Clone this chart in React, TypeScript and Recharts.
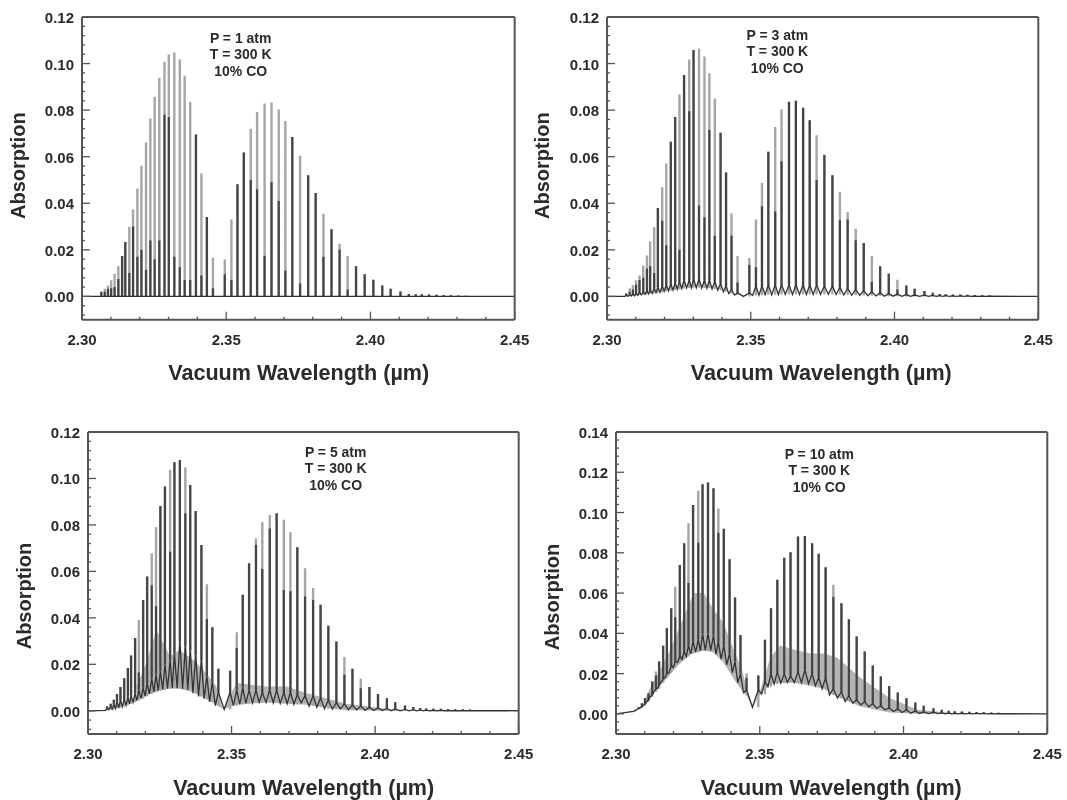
import { Area, ComposedChart, Line, XAxis, YAxis } from "recharts";

// line centres of the CO 2-0 band (um)
const lineWl = [
  2.3067, 2.3079, 2.309, 2.3101, 2.3113, 2.3126, 2.3139, 2.315, 2.3164, 2.3177, 2.3192, 2.3206, 2.3222,
  2.3237, 2.3252, 2.3268, 2.3286, 2.3301, 2.332, 2.3339, 2.3356, 2.3375, 2.3395, 2.3414, 2.3433, 2.3454,
  2.3495, 2.3518, 2.3539, 2.3561, 2.3585, 2.3607, 2.3633, 2.3657, 2.3682, 2.3705, 2.3729,
  2.3756, 2.3784, 2.381, 2.3837, 2.3865, 2.3893, 2.3921, 2.395, 2.398, 2.401, 2.4041, 2.407, 2.4104,
  2.4133, 2.4157, 2.4178, 2.4203, 2.4229, 2.4254, 2.4279, 2.4305, 2.433,
];

const xTicks = [2.3, 2.31, 2.32, 2.33, 2.34, 2.35, 2.36, 2.37, 2.38, 2.39, 2.4, 2.41, 2.42, 2.43, 2.44, 2.45];
const yTicks12 = [-0.008, -0.004, 0, 0.004, 0.008, 0.012, 0.016, 0.02, 0.024, 0.028, 0.032, 0.036, 0.04, 0.044, 0.048, 0.052, 0.056, 0.06, 0.064, 0.068, 0.072, 0.076, 0.08, 0.084, 0.088, 0.092, 0.096, 0.1, 0.104, 0.108, 0.112, 0.116, 0.12];
const yTicks14 = [...yTicks12, 0.124, 0.128, 0.132, 0.136, 0.14];

// P = 1 atm
const peak1 = [
  0.002, 0.0033, 0.0047, 0.0069, 0.0097, 0.013, 0.0173, 0.0234, 0.0298, 0.0373, 0.0463, 0.0561, 0.0661,
  0.0764, 0.0857, 0.0939, 0.1008, 0.1039, 0.1047, 0.1018, 0.0948, 0.0836, 0.0695, 0.0528, 0.0341, 0.0166,
  0.0159, 0.033, 0.0482, 0.0618, 0.072, 0.0792, 0.0828, 0.0833, 0.0803, 0.0753, 0.0685,
  0.0604, 0.052, 0.0444, 0.0355, 0.0288, 0.0226, 0.0173, 0.013, 0.0095, 0.0072, 0.0047, 0.0033, 0.0023,
  0.001, 0.0009, 0.0009, 0.0008, 0.0007, 0.0006, 0.0006, 0.0004, 0.0003,
];
const high1 = [
  0.002, 0.002, 0.0033, 0.0035, 0.004, 0.0075, 0.0173, 0.0234, 0.01, 0.03, 0.017, 0.02, 0.0115,
  0.024, 0.016, 0.024, 0.078, 0.077, 0.017, 0.0125, 0.007, 0.007, 0.0695, 0.009, 0.0341, 0.0035,
  0.0095, 0.007, 0.0482, 0.0618, 0.05, 0.046, 0.0175, 0.049, 0.041, 0.011, 0.0685,
  0.0055, 0.052, 0.0444, 0.017, 0.0288, 0.02, 0.003, 0.013, 0.0095, 0.0072, 0.0047, 0.0033, 0.002,
  0.001, 0.0009, 0.0009, 0.0008, 0.0007, 0.0006, 0.0005, 0.0004, 0.0003,
];
const low1 = lineWl.map(() => 0);
const valley1 = lineWl.map(() => 0);

// P = 3 atm
const peak2 = [
  0.0012, 0.0035, 0.0048, 0.0069, 0.009, 0.0133, 0.0176, 0.0237, 0.0298, 0.038, 0.047, 0.0571, 0.0664,
  0.0771, 0.0867, 0.0951, 0.1018, 0.1058, 0.1065, 0.103, 0.0958, 0.085, 0.0703, 0.0532, 0.0356, 0.0173,
  0.0165, 0.033, 0.0487, 0.0621, 0.0728, 0.0804, 0.0836, 0.084, 0.081, 0.0757, 0.0692,
  0.0609, 0.052, 0.0449, 0.0363, 0.0291, 0.0229, 0.0173, 0.013, 0.0097, 0.0072, 0.0047, 0.0033, 0.0023,
  0.0016, 0.001, 0.0009, 0.0008, 0.0008, 0.0007, 0.0006, 0.0005, 0.0004,
];
const high2 = [
  0.0012, 0.002, 0.003, 0.005, 0.007, 0.008, 0.012, 0.013, 0.01, 0.038, 0.0325, 0.022, 0.0664,
  0.0771, 0.02, 0.0951, 0.0795, 0.1058, 0.039, 0.034, 0.0715, 0.026, 0.0703, 0.0532, 0.026, 0.006,
  0.0135, 0.0125, 0.0387, 0.0621, 0.0365, 0.058, 0.0836, 0.084, 0.081, 0.0757, 0.05,
  0.0606, 0.052, 0.0327, 0.033, 0.0241, 0.0229, 0.0062, 0.013, 0.0097, 0.003, 0.0047, 0.0033, 0.0023,
  0.0016, 0.001, 0.0009, 0.0008, 0.0008, 0.0007, 0.0006, 0.0005, 0.0004,
];
const low2 = [
  0.0004, 0.0008, 0.0012, 0.0015, 0.0018, 0.002, 0.0025, 0.003, 0.0035, 0.004, 0.0045, 0.005, 0.0055,
  0.006, 0.0065, 0.007, 0.007, 0.0075, 0.0075, 0.007, 0.007, 0.0065, 0.0055, 0.0045, 0.003, 0.0015,
  0.0015, 0.0045, 0.0045, 0.005, 0.005, 0.005, 0.005, 0.005, 0.005, 0.005, 0.005,
  0.0045, 0.0045, 0.004, 0.0035, 0.003, 0.0025, 0.002, 0.0015, 0.0012, 0.001, 0.0008, 0.0006, 0.0005,
  0.0004, 0.0003, 0.0003, 0.0002, 0.0002, 0.0002, 0.0001, 0.0001, 0.0001,
];
const valley2 = [
  0, 0.0001, 0.0002, 0.0003, 0.0005, 0.0007, 0.0009, 0.0011, 0.0013, 0.0016, 0.0018, 0.0022, 0.0024,
  0.0027, 0.0031, 0.0034, 0.0036, 0.0037, 0.0037, 0.0036, 0.0035, 0.0032, 0.0027, 0.002, 0.0012, 0.0006,
  0, 0.0004, 0.0005, 0.0007, 0.0007, 0.0008, 0.0008, 0.0008, 0.0008, 0.0008, 0.0008,
  0.0009, 0.0009, 0.0008, 0.0006, 0.0005, 0.0004, 0.0003, 0.0002, 0.0001, 0.0001, 0, 0, 0,
  0, 0, 0, 0, 0, 0, 0, 0, 0,
];

// P = 5 atm
const peak3 = [
  0.0019, 0.003, 0.0047, 0.0072, 0.0102, 0.014, 0.0184, 0.0238, 0.0313, 0.0391, 0.0477, 0.0578, 0.0678,
  0.079, 0.0882, 0.0965, 0.1037, 0.107, 0.108, 0.1047, 0.0972, 0.086, 0.0714, 0.0545, 0.036, 0.0181,
  0.0172, 0.0338, 0.0499, 0.0635, 0.0743, 0.0811, 0.0843, 0.085, 0.0822, 0.0768, 0.0704,
  0.0614, 0.0528, 0.0456, 0.0366, 0.0298, 0.0231, 0.0181, 0.0138, 0.0102, 0.0072, 0.0054, 0.0037, 0.0023,
  0.0016, 0.0012, 0.001, 0.0009, 0.0009, 0.0008, 0.0007, 0.0006, 0.0005,
];
const high3 = [
  0.0019, 0.003, 0.0047, 0.0072, 0.0102, 0.014, 0.0184, 0.0238, 0.0313, 0.0165, 0.0477, 0.0578, 0.054,
  0.045, 0.0882, 0.0965, 0.0685, 0.107, 0.108, 0.085, 0.0972, 0.086, 0.0714, 0.0395, 0.036, 0.0181,
  0.0172, 0.027, 0.0499, 0.0635, 0.0715, 0.061, 0.0785, 0.085, 0.052, 0.0515, 0.0704,
  0.0492, 0.0477, 0.0456, 0.0366, 0.0298, 0.0155, 0.0181, 0.0097, 0.0102, 0.0072, 0.0054, 0.0037, 0.0023,
  0.0016, 0.0012, 0.001, 0.0009, 0.0009, 0.0008, 0.0007, 0.0006, 0.0005,
];
const low3 = [
  0.001, 0.002, 0.003, 0.004, 0.0045, 0.005, 0.006, 0.0065, 0.0075, 0.009, 0.01, 0.012, 0.014,
  0.0157, 0.017, 0.02, 0.022, 0.0245, 0.03, 0.028, 0.026, 0.024, 0.022, 0.015, 0.0125, 0.008,
  0.008, 0.009, 0.01, 0.009, 0.009, 0.008, 0.009, 0.009, 0.008, 0.008, 0.007,
  0.0065, 0.0065, 0.0055, 0.0045, 0.0035, 0.003, 0.0025, 0.002, 0.0015, 0.0012, 0.001, 0.0008, 0.0006,
  0.0005, 0.0004, 0.0003, 0.0002, 0.0002, 0.0001, 0.0001, 0.0001, 0.0001,
];
const valley3 = [
  0.0002, 0.0004, 0.0007, 0.001, 0.0013, 0.0018, 0.0024, 0.003, 0.0037, 0.0044, 0.0052, 0.0062, 0.0072,
  0.008, 0.0086, 0.0091, 0.0095, 0.0097, 0.0097, 0.0094, 0.009, 0.0076, 0.0062, 0.0052, 0.0038, 0.0022,
  0.0006, 0.0022, 0.0028, 0.0032, 0.0034, 0.0036, 0.0036, 0.0034, 0.0032, 0.003, 0.0028,
  0.0034, 0.002, 0.0015, 0.0009, 0.0007, 0.0008, 0.0005, 0.0004, 0.0002, 0.0001, 0.0001, 0, 0,
  0, 0, 0, 0, 0, 0, 0, 0, 0,
];
const hazeWl3 = [2.3169, 2.3203, 2.3238, 2.3285, 2.3319, 2.3366, 2.3412, 2.3447, 2.347, 2.3517, 2.3621, 2.3691, 2.376, 2.39, 2.41];
const hazeTop3 = [0.0105, 0.0205, 0.035, 0.0235, 0.026, 0.022, 0.0162, 0.0105, 0.0006, 0.012, 0.0105, 0.0105, 0.0076, 0.003, 0];
const hazeBase3 = [0.0048, 0.0069, 0.0084, 0.0097, 0.0095, 0.008, 0.005, 0.0026, 0.0006, 0.0026, 0.0036, 0.003, 0.0026, 0.0002, 0];

// P = 10 atm
const peak4 = [
  0.002, 0.0033, 0.0053, 0.0078, 0.0103, 0.0161, 0.021, 0.026, 0.0338, 0.0425, 0.0525, 0.0632, 0.074,
  0.0848, 0.0947, 0.1038, 0.1108, 0.1141, 0.1149, 0.1121, 0.102, 0.0919, 0.0768, 0.0578, 0.0392, 0.0202,
  0.019, 0.0368, 0.0525, 0.0666, 0.0776, 0.0803, 0.0881, 0.0884, 0.0848, 0.0795, 0.0728,
  0.0641, 0.055, 0.047, 0.0384, 0.031, 0.024, 0.0185, 0.0139, 0.0106, 0.0078, 0.0056, 0.004, 0.0028,
  0.002, 0.0015, 0.0013, 0.0012, 0.001, 0.0009, 0.0008, 0.0007, 0.0006,
];
const high4 = [
  0.002, 0.0033, 0.0053, 0.0078, 0.0103, 0.0161, 0.019, 0.026, 0.0338, 0.0425, 0.0525, 0.048, 0.074,
  0.0848, 0.065, 0.1038, 0.085, 0.1141, 0.1149, 0.1121, 0.09, 0.0919, 0.0768, 0.0578, 0.0392, 0.018,
  0.019, 0.0368, 0.0525, 0.0666, 0.0776, 0.0803, 0.0881, 0.0884, 0.0848, 0.0795, 0.0728,
  0.058, 0.055, 0.047, 0.0384, 0.031, 0.024, 0.0185, 0.0139, 0.0106, 0.0078, 0.0056, 0.004, 0.0028,
  0.002, 0.0015, 0.0013, 0.0012, 0.001, 0.0009, 0.0008, 0.0007, 0.0006,
];
const low4 = [
  0.0017, 0.0027, 0.0036, 0.005, 0.007, 0.0095, 0.0125, 0.0145, 0.0175, 0.02, 0.024, 0.026, 0.029,
  0.031, 0.034, 0.036, 0.037, 0.04, 0.04, 0.039, 0.036, 0.034, 0.03, 0.026, 0.02, 0.012,
  0.012, 0.016, 0.02, 0.021, 0.02, 0.019, 0.021, 0.022, 0.02, 0.018, 0.018,
  0.0125, 0.011, 0.009, 0.007, 0.006, 0.005, 0.004, 0.003, 0.0025, 0.002, 0.0015, 0.001, 0.0008,
  0.0005, 0.0004, 0.0003, 0.0003, 0.0002, 0.0002, 0.0002, 0.0001, 0.0001,
];
const valley4 = [
  0.0012, 0.0022, 0.003, 0.0042, 0.006, 0.0085, 0.011, 0.0125, 0.0155, 0.018, 0.0205, 0.023, 0.0255,
  0.027, 0.0285, 0.0298, 0.0305, 0.0313, 0.0315, 0.0315, 0.0297, 0.0272, 0.0243, 0.0205, 0.0155, 0.0105,
  0.0033, 0.0098, 0.0135, 0.0148, 0.0152, 0.0156, 0.0155, 0.0155, 0.015, 0.014, 0.0125,
  0.0094, 0.0078, 0.0061, 0.0053, 0.0045, 0.0036, 0.0028, 0.002, 0.0012, 0.0007, 0.0003, 0.0002, 0.0001,
  0.0001, 0, 0, 0, 0, 0, 0, 0, 0,
];
const hazeWl4 = [2.3096, 2.3125, 2.3154, 2.3183, 2.3212, 2.3241, 2.327, 2.3305, 2.3339, 2.3374, 2.3409, 2.3438, 2.3456, 2.3475, 2.3502, 2.3537, 2.3571, 2.3618, 2.3676, 2.3722, 2.3769, 2.385, 2.395, 2.405, 2.42];
const hazeTop4 = [0.0055, 0.015, 0.022, 0.03, 0.04, 0.05, 0.06, 0.06, 0.052, 0.045, 0.032, 0.022, 0.012, 0.0033, 0.012, 0.028, 0.034, 0.032, 0.03, 0.03, 0.028, 0.018, 0.008, 0.002, 0];
const hazeBase4 = [0.0042, 0.0095, 0.0145, 0.0185, 0.0235, 0.0275, 0.0305, 0.0315, 0.0305, 0.0255, 0.0175, 0.0115, 0.0085, 0.0033, 0.0098, 0.0148, 0.0155, 0.0155, 0.014, 0.0125, 0.0085, 0.0036, 0.0007, 0.0001, 0];

const spikes = (from: number[], to: number[]) =>
  lineWl.flatMap((x, i) => [
    { x, y: from[i] },
    { x, y: to[i] },
    { x, y: null },
  ]);

// scalloped floor: down to the valley between lines, up to the knee at each line
const floorLine = (valley: number[], knee: number[]) => [
  { x: 2.3, y: 0 },
  ...lineWl.flatMap((x, i) => [
    { x: i === 0 ? x - 0.0006 : (x + lineWl[i - 1]) / 2, y: valley[i] },
    { x, y: knee[i] },
  ]),
  { x: 2.45, y: 0 },
];

const FONT = '"Liberation Sans", Arial, sans-serif';
const INK = "#2b2b2b";
const FRAME = "#555";

const isMajorX = (v: number) => Math.round(v * 100) % 5 === 0;
const isMajorY = (v: number) => Math.round(v * 1000) % 20 === 0;

const BottomTick = ({ x, y, payload }: any) => (
  <g>
    <line x1={x} x2={x} y1={y} y2={y - (isMajorX(payload.value) ? 8 : 3)} stroke={FRAME} strokeWidth={1.3} />
    {isMajorX(payload.value) && (
      <text x={x} y={y + 25} textAnchor="middle" fontFamily={FONT} fontWeight="bold" fontSize={15} fill={INK}>
        {payload.value.toFixed(2)}
      </text>
    )}
  </g>
);
const TopTick = ({ x, y, payload }: any) => (
  <line x1={x} x2={x} y1={y} y2={y + (isMajorX(payload.value) ? 8 : 3)} stroke={FRAME} strokeWidth={1.3} />
);
const LeftTick = ({ x, y, payload }: any) => (
  <g>
    <line x1={x} x2={x + (isMajorY(payload.value) ? 8 : 3)} y1={y} y2={y} stroke={FRAME} strokeWidth={1.3} />
    {isMajorY(payload.value) && (
      <text x={x - 8} y={y + 6} textAnchor="end" fontFamily={FONT} fontWeight="bold" fontSize={15} fill={INK}>
        {payload.value.toFixed(2)}
      </text>
    )}
  </g>
);
const RightTick = ({ x, y, payload }: any) => (
  <line x1={x} x2={x - (isMajorY(payload.value) ? 8 : 3)} y1={y} y2={y} stroke={FRAME} strokeWidth={1.3} />
);

// room round each plot for labels; axes take 1px each, so margins are one less
const PAD = { top: 20, right: 40, bottom: 80, left: 82 };
const MARGIN = { top: 19, right: 39, bottom: 79, left: 81 };

function Panel({ box, note, noteX, noteY, titleX, titleY, sideX, sideY, yMax, yTicks, peak, high, low, valley, haze }: any) {
  const w = box.right - box.left;
  const h = box.bottom - box.top;
  const axisProps = { type: "number" as const, tickLine: false, tickSize: 0, tickMargin: 0, interval: 0 as const, axisLine: { stroke: FRAME, strokeWidth: 2 } };
  const xDomain: [number, number] = [2.3, 2.45];
  const yDomain: [number, number] = [-0.01, yMax];
  const ox = box.left - PAD.left;
  const oy = box.top - PAD.top;
  return (
    <div style={{ position: "absolute", left: ox, top: oy }}>
      <ComposedChart width={w + PAD.left + PAD.right} height={h + PAD.top + PAD.bottom} margin={MARGIN}>
        <XAxis {...axisProps} dataKey="x" xAxisId={0} orientation="bottom" height={1} domain={xDomain} ticks={xTicks} tick={BottomTick} />
        <XAxis {...axisProps} dataKey="x" xAxisId="top" orientation="top" height={1} domain={xDomain} ticks={xTicks} tick={TopTick} />
        <YAxis {...axisProps} yAxisId={0} orientation="left" width={1} domain={yDomain} ticks={yTicks} tick={LeftTick} />
        <YAxis {...axisProps} yAxisId="right" orientation="right" width={1} domain={yDomain} ticks={yTicks} tick={RightTick} />
        {haze && (
          <Area data={haze} dataKey="range" stroke="none" fill="#b4b4b4" fillOpacity={1} dot={false} activeDot={false} isAnimationActive={false} />
        )}
        <Line data={spikes(valley, peak)} dataKey="y" stroke="#a6a6a6" strokeWidth={2.4} dot={false} activeDot={false} isAnimationActive={false} />
        <Line data={spikes(low, high)} dataKey="y" stroke="#444" strokeWidth={2.2} dot={false} activeDot={false} isAnimationActive={false} />
        <Line data={floorLine(valley, low)} dataKey="y" stroke="#333" strokeWidth={1.3} dot={false} activeDot={false} isAnimationActive={false} />
        {note.map((t: string, i: number) => (
          <text key={t} x={noteX - ox} y={noteY - oy + i * 16.5} textAnchor="middle" fontFamily={FONT} fontWeight="bold" fontSize={14} fill={INK}>
            {t}
          </text>
        ))}
        <text x={titleX - ox} y={titleY - oy} textAnchor="middle" fontFamily={FONT} fontWeight="bold" fontSize={21.6} fill={INK}>
          Vacuum Wavelength (µm)
        </text>
        <text
          transform={`translate(${sideX - ox},${sideY - oy}) rotate(-90)`}
          textAnchor="middle"
          fontFamily={FONT}
          fontWeight="bold"
          fontSize={20}
          fill={INK}
        >
          Absorption
        </text>
      </ComposedChart>
    </div>
  );
}

const hazeRows = (wl: number[], base: number[], top: number[]) =>
  wl.map((x, i) => ({ x, range: [base[i], top[i]] }));

export default function App() {
  return (
    <div style={{ position: "absolute", left: 0, top: 0, width: 1067, height: 800, background: "#fff", overflow: "hidden", filter: "blur(0.6px)" }}>
      <Panel
        box={{ left: 82.3, right: 515, top: 17.3, bottom: 320 }}
        note={["P = 1 atm", "T = 300 K", "10% CO"]}
        noteX={241} noteY={43} titleX={299} titleY={380} sideX={25} sideY={166}
        yMax={0.12} yTicks={yTicks12}
        peak={peak1} high={high1} low={low1} valley={valley1}
      />
      <Panel
        box={{ left: 606.7, right: 1038, top: 17.3, bottom: 320 }}
        note={["P = 3 atm", "T = 300 K", "10% CO"]}
        noteX={777} noteY={40} titleX={821} titleY={380} sideX={549} sideY={166}
        yMax={0.12} yTicks={yTicks12}
        peak={peak2} high={high2} low={low2} valley={valley2}
      />
      <Panel
        box={{ left: 88.3, right: 519, top: 432, bottom: 734 }}
        note={["P = 5 atm", "T = 300 K", "10% CO"]}
        noteX={336} noteY={457} titleX={304} titleY={795} sideX={31} sideY={596}
        yMax={0.12} yTicks={yTicks12}
        peak={peak3} high={high3} low={low3} valley={valley3}
        haze={hazeRows(hazeWl3, hazeBase3, hazeTop3)}
      />
      <Panel
        box={{ left: 615.7, right: 1047, top: 432, bottom: 734 }}
        note={["P = 10 atm", "T = 300 K", "10% CO"]}
        noteX={819} noteY={459} titleX={831} titleY={795} sideX={559} sideY={597}
        yMax={0.14} yTicks={yTicks14}
        peak={peak4} high={high4} low={low4} valley={valley4}
        haze={hazeRows(hazeWl4, hazeBase4, hazeTop4)}
      />
    </div>
  );
}
